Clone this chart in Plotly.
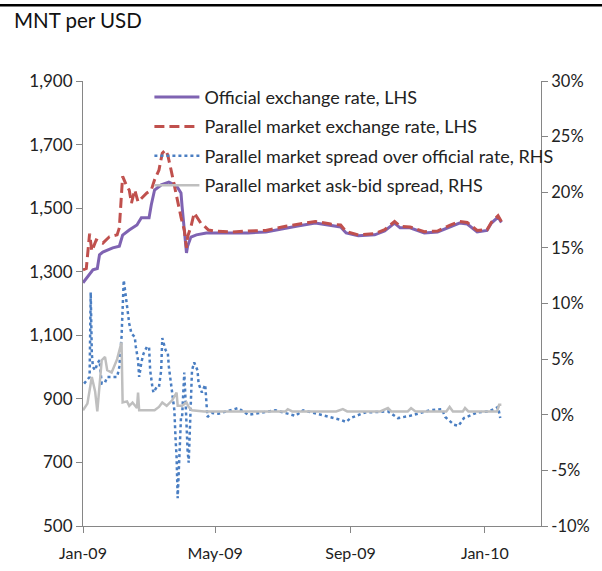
import pandas as pd
import plotly.graph_objects as go

# days counted from 1 Jan 2009
official_day = [0, 4, 9, 13, 15, 18, 27, 33, 36, 42, 49, 53, 60, 62, 65, 71, 78, 85, 89, 90, 92, 94,
                95, 98, 103, 112, 123, 135, 150, 166, 184, 195, 211, 225, 234, 239, 250, 265, 274,
                283, 288, 297, 310, 322, 333, 342, 349, 358, 367, 371, 377, 380]
official_rate = [1265, 1284, 1306, 1310, 1353, 1362, 1375, 1380, 1415, 1431, 1447, 1470, 1470, 1510,
                 1557, 1573, 1582, 1570, 1548, 1505, 1422, 1359, 1380, 1409, 1416, 1422, 1422, 1422,
                 1422, 1425, 1438, 1444, 1453, 1447, 1441, 1422, 1413, 1416, 1428, 1453, 1438, 1438,
                 1422, 1425, 1441, 1453, 1450, 1425, 1430, 1453, 1472, 1455]

parallel_day = [0, 3, 6, 8, 12, 18, 24, 31, 33, 36, 40, 42, 44, 47, 50, 53, 58, 62, 65, 69, 72, 75,
                77, 80, 83, 86, 89, 92, 94, 95, 98, 101, 104, 107, 111, 114, 120, 135, 150, 166, 184,
                195, 211, 225, 234, 239, 250, 265, 274, 283, 288, 297, 310, 322, 333, 342, 349, 358,
                367, 371, 377, 380]
parallel_rate = [1306, 1310, 1420, 1365, 1400, 1390, 1410, 1416, 1438, 1600, 1567, 1557, 1516, 1557,
                 1520, 1530, 1548, 1557, 1589, 1620, 1673, 1683, 1667, 1620, 1567, 1516, 1472, 1431,
                 1375, 1410, 1441, 1485, 1470, 1453, 1441, 1431, 1428, 1425, 1428, 1430, 1443, 1450,
                 1458, 1450, 1447, 1426, 1416, 1420, 1432, 1458, 1443, 1441, 1426, 1428, 1446, 1458,
                 1455, 1430, 1432, 1456, 1476, 1458]

spread_day = [1, 6, 7, 8, 9, 11, 13, 15, 17, 20, 22, 27, 31, 33, 35, 37, 39, 40, 42, 44, 47, 48, 50,
              51, 53, 55, 58, 60, 61, 63, 64, 67, 69, 71, 72, 75, 77, 78, 81, 83, 84, 85, 86, 87, 88,
              89, 90, 92, 93, 94, 95, 96, 97, 98, 99, 101, 104, 105, 108, 111, 112, 113, 117, 123,
              141, 150, 175, 193, 200, 234, 239, 243, 256, 277, 286, 297, 315, 326, 329, 337, 341,
              346, 358, 369, 377, 379]
spread_pct = [2.8, 3.4, 11.0, 5.5, 4.3, 4.0, 4.6, 4.9, 2.8, 2.9, 3.4, 3.4, 3.4, 4.3, 7.0, 12.1, 10.6,
              9.4, 8.2, 7.3, 7.0, 6.1, 4.9, 3.4, 4.7, 5.5, 6.1, 6.1, 4.0, 2.5, 2.0, 2.5, 2.5, 4.0, 6.9,
              5.8, 5.6, 4.3, 2.2, 0.4, -2.0, -3.8, -7.5, -5.0, -2.5, -0.2, -0.2, 3.8, 1.6, -1.1, -3.2,
              -4.3, -1.1, 1.6, 4.0, 4.7, 4.0, 2.8, 2.0, 2.7, 1.1, -0.2, 0.15, 0.1, 0.6, 0.0, 0.4,
              -0.1, 0.4, -0.45, -0.65, -0.3, 0.2, 0.3, -0.3, -0.1, 0.4, 0.5, -0.2, -0.9, -1.0, -0.3,
              0.2, 0.3, 0.7, -0.3]

askbid_day = [0, 4, 8, 11, 13, 15, 17, 20, 22, 26, 29, 31, 35, 36, 40, 42, 45, 49, 50, 51, 56, 65,
              69, 72, 76, 78, 81, 85, 86, 90, 94, 96, 99, 110, 130, 150, 175, 184, 186, 190, 230,
              236, 240, 270, 277, 280, 295, 298, 302, 330, 333, 336, 345, 347, 350, 376, 378, 380]
askbid_pct = [0.4, 1.0, 3.4, 2.1, 0.3, 2.9, 4.9, 5.2, 4.0, 3.8, 4.6, 5.0, 6.5, 1.1, 1.2, 0.8, 1.1,
              0.6, 2.0, 0.4, 0.4, 0.4, 0.7, 1.1, 0.8, 1.0, 1.3, 2.0, 0.8, 0.8, 1.1, 0.7, 0.4, 0.3,
              0.3, 0.3, 0.3, 0.3, 0.5, 0.3, 0.3, 0.5, 0.3, 0.3, 0.6, 0.3, 0.3, 0.6, 0.3, 0.3, 0.7,
              0.3, 0.3, 0.6, 0.3, 0.3, 0.9, 0.9]

rhs_ticks = [-10, -5, 0, 5, 10, 15, 20, 25, 30]
rhs_labels = ['-10%', '-5%', '0%', '5%', '10%', '15%', '20%', '25%', '30%']

start = pd.Timestamp('2009-01-01')


def to_dates(days):
    return start + pd.to_timedelta(days, unit='D')


FONT = 'Lato'
AXIS_GREY = '#868686'

fig = go.Figure()
fig.add_trace(go.Scatter(x=to_dates(official_day), y=official_rate, mode='lines',
                         name='Official exchange rate, LHS', legendgroup='a',
                         line=dict(color='#7f63b2', width=3)))
fig.add_trace(go.Scatter(x=to_dates(parallel_day), y=parallel_rate, mode='lines',
                         name='Parallel market exchange rate, LHS', legendgroup='b',
                         line=dict(color='#c0504d', width=3, dash='10px,5px')))
fig.add_trace(go.Scatter(x=to_dates(spread_day), y=spread_pct, mode='lines', yaxis='y2',
                         name='Parallel market spread over official rate, RHS', legendgroup='c',
                         line=dict(color='#4a7ec2', width=2.5, dash='3px,3px')))
fig.add_trace(go.Scatter(x=to_dates(askbid_day), y=askbid_pct, mode='lines', yaxis='y2',
                         name='Parallel market ask-bid spread, RHS', legendgroup='d',
                         line=dict(color='#bfbfbf', width=2.5)))

fig.update_layout(
    width=602, height=571,
    margin=dict(l=83, r=57, t=81, b=45),
    plot_bgcolor='white', paper_bgcolor='white',
    font=dict(family=FONT, size=16, color='#222222'),
    showlegend=True,
    legend=dict(x=0.145, y=1.005, xanchor='left', yanchor='top', bgcolor='rgba(0,0,0,0)',
                font=dict(family=FONT, size=18, color='#222222'), tracegroupgap=3,
                itemwidth=45),
    xaxis=dict(type='date', range=[start, start + pd.Timedelta(days=416)],
               tick0='2009-01-01', dtick='M4', tickformat='%b-%y',
               showgrid=False, zeroline=False, showline=True, linecolor=AXIS_GREY, linewidth=1,
               ticks='outside', ticklen=6, tickcolor=AXIS_GREY, tickfont=dict(size=16),
               ticklabelstandoff=7, automargin=False),
    yaxis=dict(range=[500, 1900], tick0=500, dtick=200, tickformat=',', showgrid=False,
               zeroline=False, showline=True, linecolor=AXIS_GREY, linewidth=1, ticks='outside',
               ticklen=6, tickcolor=AXIS_GREY, tickfont=dict(size=17)),
    yaxis2=dict(range=[-10, 30], tickvals=rhs_ticks, ticktext=rhs_labels, overlaying='y',
                side='right', showgrid=False, zeroline=False, showline=True, linecolor=AXIS_GREY,
                linewidth=1, ticks='outside', ticklen=6, tickcolor=AXIS_GREY,
                tickfont=dict(size=16.5)),
)

# title above the left axis and the rule at the very top
fig.add_annotation(text='MNT per USD', xref='paper', yref='paper', x=-0.155, y=1.137,
                   xanchor='left', yanchor='middle', showarrow=False,
                   font=dict(family=FONT, size=20.5, color='#111111'))
fig.add_shape(type='line', xref='paper', yref='paper', x0=-0.2, x1=1.2, y0=1.17, y1=1.17,
              line=dict(color='black', width=2.5))

# drop the default page margin so the figure sits at the window corner
fig.write_html('out.html', config={'displayModeBar': False},
               post_script="document.body.style.margin='0';")
